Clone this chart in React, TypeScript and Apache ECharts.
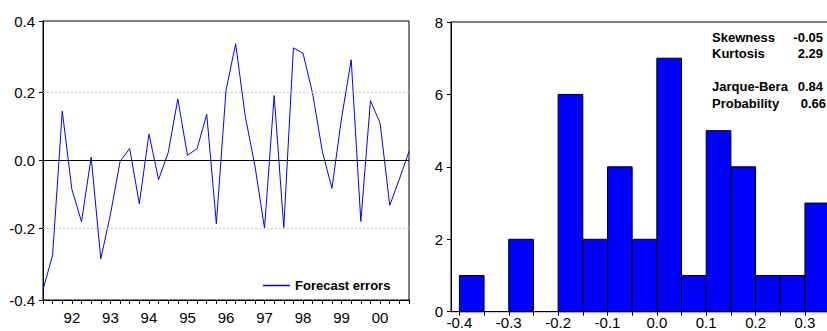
import React, { useEffect, useRef } from "react";
import * as echarts from "echarts";

// Quarterly forecast errors, 1991Q2 - 2000Q4
const startYear = 1991;
const startQuarter = 2;
const endYear = 2000;
const errors = [
  -0.38, -0.278, 0.145, -0.085, -0.18, 0.01, -0.289, -0.159, -0.003, 0.035,
  -0.127, 0.078, -0.056, 0.023, 0.181, 0.015, 0.035, 0.136, -0.186, 0.206,
  0.343, 0.13, -0.015, -0.199, 0.191, -0.197, 0.331, 0.315, 0.196, 0.027,
  -0.082, 0.125, 0.296, -0.179, 0.176, 0.11, -0.132, -0.055, 0.027,
];

// Histogram bins (lower edge) and counts
const binWidth = 0.05;
const binLower = [-0.4, -0.35, -0.3, -0.25, -0.2, -0.15, -0.1, -0.05, 0.0, 0.05, 0.1, 0.15, 0.2, 0.25, 0.3];
const binCounts = [1, 0, 2, 0, 6, 2, 4, 2, 7, 1, 5, 4, 1, 1, 3];
const histTicks = [-0.4, -0.35, -0.3, -0.25, -0.2, -0.15, -0.1, -0.05, 0.0, 0.05, 0.1, 0.15, 0.2, 0.25, 0.3, 0.35];
const histLabels = [-0.4, -0.3, -0.2, -0.1, 0.0, 0.1, 0.2, 0.3];

const lineYLabels = [-0.41, -0.2, 0, 0.2, 0.41];

const statLabels = ["Skewness", "Kurtosis", "Jarque-Bera", "Probability"];
const statValues = ["-0.05", "2.29", "0.84", "0.66"];

const FONT = "'Liberation Sans', Arial, sans-serif";

export default function App() {
  const ref = useRef<HTMLDivElement>(null);
  useEffect(() => {
    if (!ref.current) return;
    const chart = echarts.init(ref.current, undefined, { renderer: "svg" });

    const quarters: string[] = [];
    for (let y = startYear; y <= endYear; y++) {
      for (let q = 1; q <= 4; q++) {
        if (y === startYear && q < startQuarter) continue;
        quarters.push(`${y}Q${q}`);
      }
    }

    const histData = binLower
      .map((lo, i) => [lo, lo + binWidth, binCounts[i]])
      .filter((d) => d[2] > 0);

    const statRowsY = [37.7, 53.3, 86.7, 103.3];
    const statValueX = [823, 823, 823, 826];

    const graphics: any[] = [];
    statLabels.forEach((lab, i) => {
      graphics.push({
        type: "text",
        x: 712,
        y: statRowsY[i],
        style: {
          text: lab,
          fill: "#000",
          font: `bold 13px ${FONT}`,
          textAlign: "left",
          textVerticalAlign: "middle",
        },
      });
      graphics.push({
        type: "text",
        x: statValueX[i],
        y: statRowsY[i],
        style: {
          text: statValues[i],
          fill: "#000",
          font: `bold 13px ${FONT}`,
          textAlign: "right",
          textVerticalAlign: "middle",
        },
      });
    });

    chart.setOption({
      animation: false,
      textStyle: { fontFamily: FONT },
      grid: [
        { left: 43, top: 21, width: 366, height: 279, outerBoundsMode: "none", containLabel: false, show: true, borderColor: "#000", borderWidth: 1, backgroundColor: "transparent" },
        { left: 451, top: 22, width: 387, height: 289.7, outerBoundsMode: "none", containLabel: false, show: true, borderColor: "#000", borderWidth: 1, backgroundColor: "transparent" },
      ],
      legend: {
        left: 258,
        top: 274,
        itemWidth: 27,
        itemHeight: 1.5,
        data: [{ name: "Forecast errors", icon: "rect" }],
        itemStyle: { color: "#0000ff" },
        textStyle: { fontWeight: "bold", fontSize: 13, color: "#000", fontFamily: FONT },
      },
      xAxis: [
        {
          type: "category",
          gridIndex: 0,
          data: quarters,
          boundaryGap: false,
          axisLine: { onZero: false, lineStyle: { color: "#000", width: 1 } },
          axisTick: { show: true, interval: 0, length: 4, lineStyle: { color: "#000" } },
          axisLabel: {
            interval: (idx: number, val: string) => val.endsWith("Q1"),
            formatter: (val: string) => val.slice(2, 4),
            fontSize: 15,
            color: "#000",
            margin: 10,
          },
          splitLine: { show: false },
        },
        {
          type: "value",
          gridIndex: 1,
          min: -0.417,
          max: 0.367,
          axisLine: { onZero: false, lineStyle: { color: "#000", width: 1 } },
          axisTick: { show: true, length: 4, customValues: histTicks, lineStyle: { color: "#000" } },
          axisLabel: {
            customValues: histLabels,
            formatter: (v: number) => v.toFixed(1),
            fontSize: 15,
            color: "#000",
            margin: 3,
          },
          splitLine: { show: false },
        },
      ],
      yAxis: [
        {
          type: "value",
          gridIndex: 0,
          min: -0.41,
          max: 0.41,
          axisLine: { show: true, onZero: false, lineStyle: { color: "#000", width: 1 } },
          axisTick: { show: true, length: 4, customValues: lineYLabels, lineStyle: { color: "#000" } },
          axisLabel: {
            customValues: lineYLabels,
            formatter: (v: number) => {
              const s = Math.abs(v) > 0.4 ? Math.sign(v) * 0.4 : v;
              return s.toFixed(1);
            },
            fontSize: 15,
            color: "#000",
            margin: 8,
          },
          splitLine: { show: false },
        },
        {
          type: "value",
          gridIndex: 1,
          min: 0,
          max: 8,
          interval: 2,
          axisLine: { show: true, onZero: false, lineStyle: { color: "#000", width: 1 } },
          axisTick: { show: true, length: 4, lineStyle: { color: "#000" } },
          axisLabel: { fontSize: 15, color: "#000", margin: 8 },
          splitLine: { show: false },
        },
      ],
      series: [
        {
          name: "Forecast errors",
          type: "line",
          xAxisIndex: 0,
          yAxisIndex: 0,
          data: errors,
          symbol: "none",
          lineStyle: { color: "#0000ff", width: 1 },
          itemStyle: { color: "#0000ff" },
          markLine: {
            silent: true,
            symbol: ["none", "none"],
            label: { show: false },
            data: [
              { yAxis: 0.2, lineStyle: { color: "#c4c4c4", type: [2, 2], width: 1 } },
              { yAxis: -0.2, lineStyle: { color: "#c4c4c4", type: [2, 2], width: 1 } },
              { yAxis: 0, lineStyle: { color: "#000", type: "solid", width: 1 } },
            ],
          },
        },
        {
          name: "Histogram",
          type: "custom",
          xAxisIndex: 1,
          yAxisIndex: 1,
          data: histData,
          encode: { x: [0, 1], y: 2 },
          renderItem: (params: any, api: any) => {
            const lo = api.value(0);
            const hi = api.value(1);
            const c = api.value(2);
            const p1 = api.coord([lo, c]);
            const p2 = api.coord([hi, 0]);
            return {
              type: "rect",
              shape: { x: p1[0], y: p1[1], width: p2[0] - p1[0], height: p2[1] - p1[1] },
              style: { fill: "#0000ff", stroke: "#000", lineWidth: 1 },
            };
          },
        },
      ],
      graphic: graphics,
    });

    return () => chart.dispose();
  }, []);

  return (
    <div
      style={{ position: "absolute", left: 0, top: 0, width: 827, height: 331, overflow: "hidden", background: "#fff" }}
    >
      <div ref={ref} style={{ width: 827, height: 331 }} />
    </div>
  );
}
